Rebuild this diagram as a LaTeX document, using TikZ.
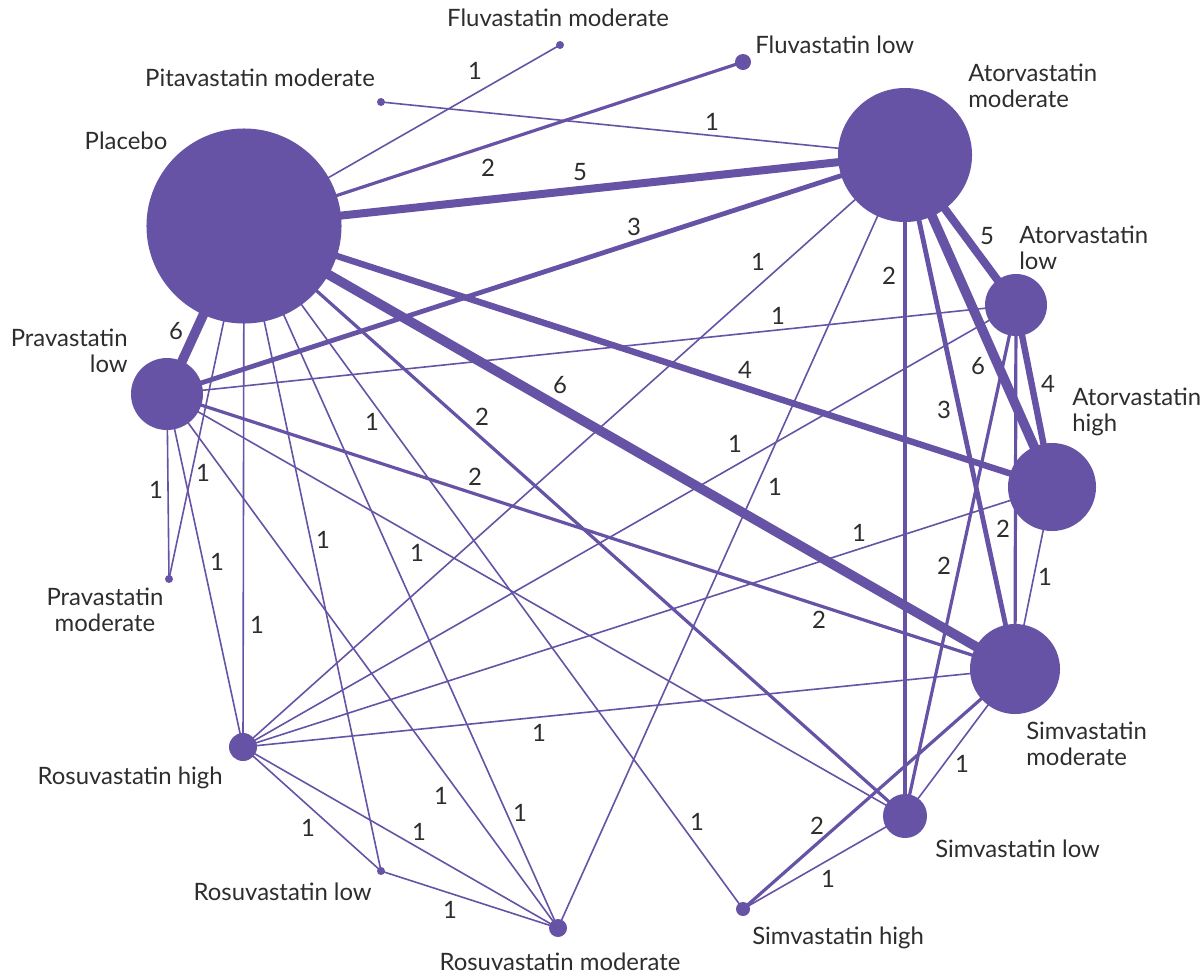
\documentclass[tikz,border=0pt]{standalone}
\usepackage{fontspec}
\setmainfont{Lato}
\usetikzlibrary{backgrounds}

\definecolor{netpurple}{RGB}{103,83,165}
\definecolor{inkgray}{RGB}{45,45,45}

\tikzset{
  drug/.style = {circle, fill = netpurple, draw = none, inner sep = 0pt},
  arm/.style = {netpurple, line width = #1 * 1.14pt},
  drugname/.style = {text = inkgray, inner sep = 0pt, font = \fontsize{17}{18.5}\selectfont},
  tally/.style = {text = inkgray, inner sep = 0pt, font = \fontsize{17}{18.5}\selectfont}
}

\begin{document}
\begin{tikzpicture}[x = 0.025cm, y = -0.025cm]
  \useasboundingbox (0, 0) rectangle (1202, 976);

  \node[drug, minimum size = 4.875cm] (pla) at (244, 226) {};
  \node[drug, minimum size = 0.2cm] (flm) at (560, 45) {};
  \node[drug, minimum size = 0.4cm] (fll) at (743, 62) {};
  \node[drug, minimum size = 0.2cm] (pim) at (381, 102) {};
  \node[drug, minimum size = 3.35cm] (atm) at (905, 155) {};
  \node[drug, minimum size = 1.55cm] (atl) at (1016, 305) {};
  \node[drug, minimum size = 2.2cm] (ath) at (1052, 487) {};
  \node[drug, minimum size = 2.25cm] (smm) at (1015, 669) {};
  \node[drug, minimum size = 1.1cm] (sml) at (905, 816) {};
  \node[drug, minimum size = 0.35cm] (smh) at (743, 909) {};
  \node[drug, minimum size = 0.45cm] (rsm) at (558, 928) {};
  \node[drug, minimum size = 0.2cm] (rsl) at (381, 871) {};
  \node[drug, minimum size = 0.7cm] (rsh) at (243, 747) {};
  \node[drug, minimum size = 0.2cm] (prm) at (169, 579) {};
  \node[drug, minimum size = 1.8cm] (prl) at (167, 394) {};

  \begin{scope}[on background layer]
    \draw[arm = 1] (pla.center) -- (flm.center);
    \draw[arm = 2] (pla.center) -- (fll.center);
    \draw[arm = 5] (pla.center) -- (atm.center);
    \draw[arm = 6] (pla.center) -- (prl.center);
    \draw[arm = 6] (pla.center) -- (smm.center);
    \draw[arm = 4] (pla.center) -- (ath.center);
    \draw[arm = 1] (pla.center) -- (prm.center);
    \draw[arm = 1] (pla.center) -- (rsh.center);
    \draw[arm = 1] (pla.center) -- (rsl.center);
    \draw[arm = 1] (pla.center) -- (rsm.center);
    \draw[arm = 1] (pla.center) -- (smh.center);
    \draw[arm = 2] (pla.center) -- (sml.center);

    \draw[arm = 1] (pim.center) -- (atm.center);
    \draw[arm = 3] (atm.center) -- (prl.center);
    \draw[arm = 1] (atm.center) -- (rsh.center);
    \draw[arm = 1] (atm.center) -- (rsm.center);
    \draw[arm = 2] (atm.center) -- (sml.center);
    \draw[arm = 3] (atm.center) -- (smm.center);
    \draw[arm = 6] (atm.center) -- (ath.center);
    \draw[arm = 5] (atm.center) -- (atl.center);

    \draw[arm = 1] (atl.center) -- (prl.center);
    \draw[arm = 1] (atl.center) -- (rsh.center);
    \draw[arm = 4] (atl.center) -- (ath.center);
    \draw[arm = 2] (atl.center) -- (smm.center);
    \draw[arm = 2] (atl.center) -- (sml.center);

    \draw[arm = 1] (ath.center) -- (rsh.center);
    \draw[arm = 1] (ath.center) -- (smm.center);

    \draw[arm = 2] (prl.center) -- (smm.center);
    \draw[arm = 1] (prl.center) -- (prm.center);
    \draw[arm = 1] (prl.center) -- (rsh.center);
    \draw[arm = 1] (prl.center) -- (sml.center);
    \draw[arm = 1] (prl.center) -- (rsm.center);

    \draw[arm = 1] (smm.center) -- (rsh.center);
    \draw[arm = 1] (smm.center) -- (sml.center);
    \draw[arm = 2] (smm.center) -- (smh.center);
    \draw[arm = 1] (smh.center) -- (sml.center);

    \draw[arm = 1] (rsh.center) -- (rsl.center);
    \draw[arm = 1] (rsh.center) -- (rsm.center);
    \draw[arm = 1] (rsl.center) -- (rsm.center);
  \end{scope}

  \node[drugname] (tflm) at (558, 18) {Fluvastatin moderate};
  \node[drugname, anchor = west] (tfll) at (755, 45) {Fluvastatin low};
  \node[drugname] (tpim) at (260, 78) {Pitavastatin moderate};
  \node[drugname] (tpla) at (126, 141) {Placebo};
  \node[drugname, anchor = west, align = left] (tatm) at (968, 86) {Atorvastatin\\moderate};
  \node[drugname, anchor = west, align = left] (tatl) at (1019, 248) {Atorvastatin\\low};
  \node[drugname, anchor = west, align = left] (tath) at (1072, 412) {Atorvastatin\\high};
  \node[drugname, anchor = west, align = left] (tsmm) at (1026, 744) {Simvastatin\\moderate};
  \node[drugname, anchor = west] (tsml) at (935, 849) {Simvastatin low};
  \node[drugname, anchor = west] (tsmh) at (752, 938) {Simvastatin high};
  \node[drugname] (trsm) at (560, 962) {Rosuvastatin moderate};
  \node[drugname, anchor = east] (trsl) at (372, 892) {Rosuvastatin low};
  \node[drugname, anchor = east] (trsh) at (223, 778) {Rosuvastatin high};
  \node[drugname, align = center] (tprm) at (105, 610) {Pravastatin\\moderate};
  \node[drugname, anchor = east, align = right] (tprl) at (128, 351) {Pravastatin\\low};

  \node[tally] (c1) at (475, 71) {1};
  \node[tally] (c2) at (488, 168) {2};
  \node[tally] (c3) at (580, 172) {5};
  \node[tally] (c4) at (712, 122) {1};
  \node[tally] (c5) at (634, 227) {3};
  \node[tally] (c6) at (176, 331) {6};
  \node[tally] (c7) at (758, 262) {1};
  \node[tally] (c8) at (889, 276) {2};
  \node[tally] (c9) at (987, 236) {5};
  \node[tally] (c10) at (778, 316) {1};
  \node[tally] (c11) at (978, 366) {6};
  \node[tally] (c12) at (1048, 384) {4};
  \node[tally] (c13) at (944, 410) {3};
  \node[tally] (c14) at (745, 370) {4};
  \node[tally] (c15) at (560, 385) {6};
  \node[tally] (c16) at (482, 417) {2};
  \node[tally] (c17) at (372, 422) {1};
  \node[tally] (c18) at (735, 444) {1};
  \node[tally] (c19) at (775, 487) {1};
  \node[tally] (c20) at (475, 477) {2};
  \node[tally] (c21) at (156, 490) {1};
  \node[tally] (c22) at (203, 473) {1};
  \node[tally] (c23) at (1003, 529) {2};
  \node[tally] (c24) at (859, 533) {1};
  \node[tally] (c25) at (323, 540) {1};
  \node[tally] (c26) at (417, 553) {1};
  \node[tally] (c27) at (217, 562) {1};
  \node[tally] (c28) at (944, 566) {2};
  \node[tally] (c29) at (1045, 577) {1};
  \node[tally] (c30) at (819, 620) {2};
  \node[tally] (c31) at (257, 625) {1};
  \node[tally] (c32) at (539, 733) {1};
  \node[tally] (c33) at (962, 764) {1};
  \node[tally] (c34) at (441, 796) {1};
  \node[tally] (c35) at (419, 832) {1};
  \node[tally] (c36) at (520, 813) {1};
  \node[tally] (c37) at (697, 822) {1};
  \node[tally] (c38) at (308, 828) {1};
  \node[tally] (c39) at (450, 910) {1};
  \node[tally] (c40) at (817, 826) {2};
  \node[tally] (c41) at (828, 879) {1};
\end{tikzpicture}
\end{document}
